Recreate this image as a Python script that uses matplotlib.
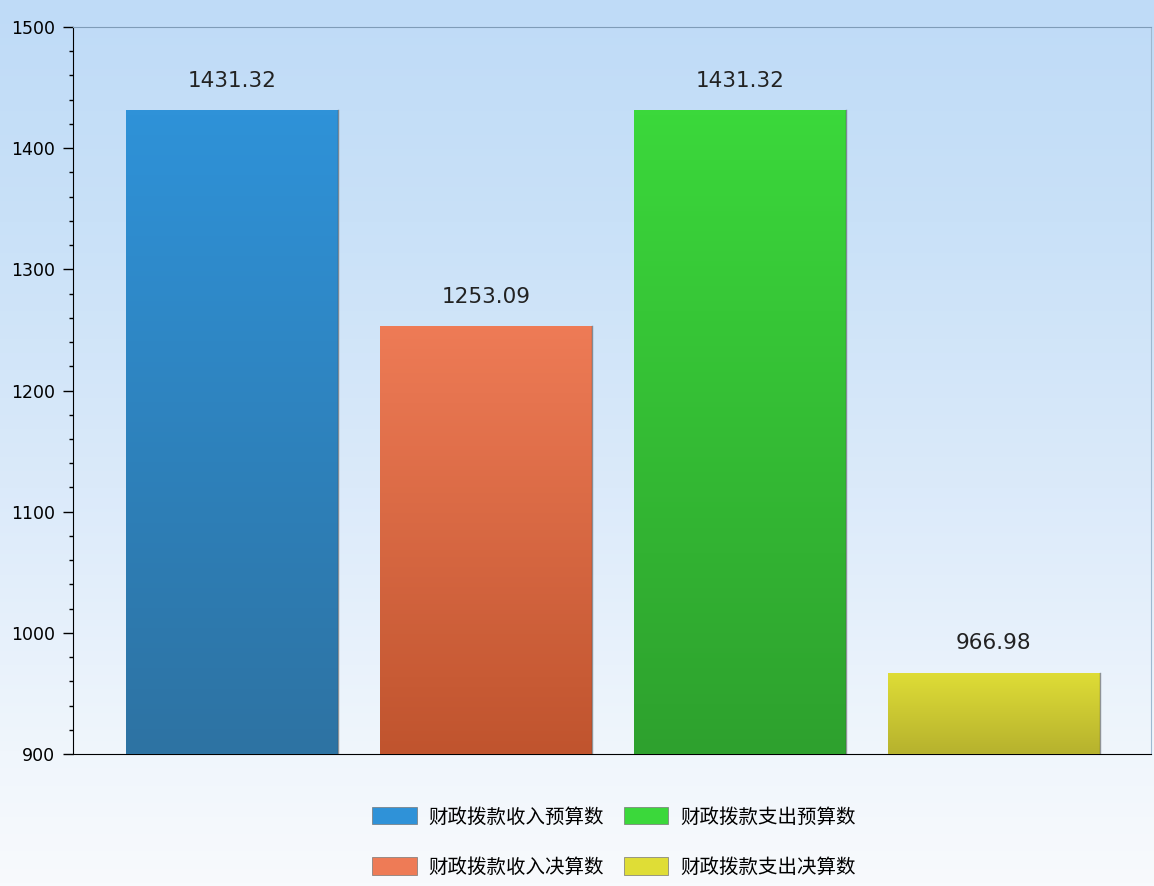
import numpy as np
import matplotlib.pyplot as plt
from matplotlib.colors import LinearSegmentedColormap
from matplotlib.ticker import MultipleLocator

plt.rcParams['font.family'] = ['Noto Sans CJK SC', 'DejaVu Sans']

categories = ['财政拨款收入预算数', '财政拨款收入决算数', '财政拨款支出预算数', '财政拨款支出决算数']
values = [1431.32, 1253.09, 1431.32, 966.98]
top_colors = ['#2f92d8', '#ee7b56', '#3bd83b', '#dfdd36']
bottom_colors = ['#2d73a3', '#c0542e', '#2ea12e', '#b6b22e']

fig = plt.figure(figsize=(11.54, 8.86), dpi=100)

# figure background gradient (bottom -> top)
bg = fig.add_axes([0, 0, 1, 1], zorder=-10)
bg_cmap = LinearSegmentedColormap.from_list(
    'bg', [(0, '#f8fafd'), (0.15, '#f0f6fc'), (0.45, '#dbeafa'), (0.75, '#c9e1f8'), (1, '#bfdbf7')])
bg.imshow(np.linspace(0, 1, 256).reshape(-1, 1), aspect='auto', cmap=bg_cmap,
          origin='lower', extent=[0, 1, 0, 1])
bg.axis('off')

ax = fig.add_axes([73 / 1154, 1 - 754 / 886, 1078 / 1154, 727 / 886])
ax.patch.set_alpha(0)

x = np.arange(len(values))
bars = ax.bar(x, values, width=0.835, label=categories,
              color=top_colors, edgecolor='none', zorder=2)

# gradient fill inside bars
for b, c1, c2 in zip(bars, top_colors, bottom_colors):
    cm = LinearSegmentedColormap.from_list('g', [c2, c1])
    im = ax.imshow(np.linspace(0, 1, 128).reshape(-1, 1), aspect='auto', cmap=cm,
                   origin='lower',
                   extent=[b.get_x(), b.get_x() + b.get_width(), 900, b.get_height()],
                   zorder=3)
    im.set_clip_path(b)
    ax.plot([b.get_x() + b.get_width()] * 2, [900, b.get_height()], color='#333333',
            lw=1, alpha=0.5, zorder=4)

ax.set_xlim(-0.626, 3.62)
ax.set_ylim(900, 1500)

for xi, v in zip(x, values):
    ax.text(xi, v + 16, f'{v:.2f}', ha='center', va='bottom', fontsize=15.5,
            color='#222222', family='DejaVu Sans')

ax.yaxis.set_major_locator(MultipleLocator(100))
ax.yaxis.set_minor_locator(MultipleLocator(20))
ax.tick_params(axis='y', which='major', length=7, width=1, labelsize=12.5, pad=6)
ax.tick_params(axis='y', which='minor', length=3, width=1)
for lbl in ax.get_yticklabels():
    lbl.set_family('DejaVu Sans')
ax.set_xticks([])
ax.spines['left'].set_color('black')
ax.spines['bottom'].set_color('black')
ax.spines['top'].set_color('#7f9cb8')
ax.spines['right'].set_color('#9fb8d0')

leg = fig.legend(handles=list(bars), labels=categories, ncol=2, loc='center',
                 bbox_to_anchor=(614 / 1154, 1 - 842 / 886), frameon=False,
                 fontsize=14, handlelength=2.3, handleheight=1.0,
                 columnspacing=1.0, labelspacing=1.5, handletextpad=0.6)
for h, c in zip(leg.legend_handles, top_colors):
    h.set_facecolor(c)
    h.set_edgecolor('#777777')
    h.set_linewidth(0.5)

fig.savefig('out.png', dpi=100)
